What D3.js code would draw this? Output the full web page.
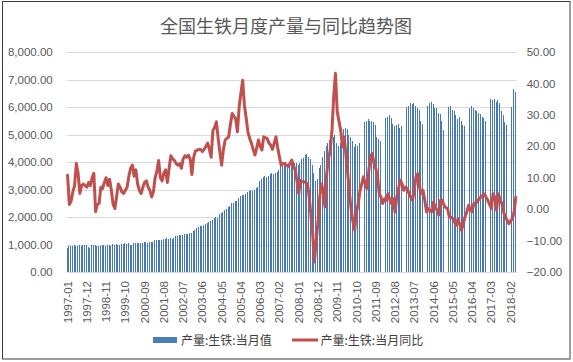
<!DOCTYPE html>
<html><head><meta charset="utf-8">
<script src="https://cdn.jsdelivr.net/npm/d3@7"></script>
<style>
html,body{margin:0;padding:0;background:#fff;}
svg{display:block;}
</style></head><body>
<script>
// ---------------- DATA ----------------
const chartTitle = "全国生铁月度产量与同比趋势图";
const seriesNames = ["产量:生铁:当月值", "产量:生铁:当月同比"];
const firstYear = 1997, monthCount = 257; // 1997-01 .. 2018-05
const months = [];
for (let i = 0; i < monthCount; i++) {
  const y = firstYear + Math.floor(i / 12), m = (i % 12) + 1;
  months.push(y + "-" + (m < 10 ? "0" + m : m));
}
const xTickLabels = ["1997-01","1997-12","1998-11","1999-10","2000-09","2001-08","2002-07","2003-06",
  "2004-05","2005-04","2006-03","2007-02","2008-01","2008-12","2009-11","2010-10","2011-09","2012-08",
  "2013-07","2014-06","2015-05","2016-04","2017-03","2018-02"];
const leftTicks = [0,1000,2000,3000,4000,5000,6000,7000,8000];
const rightTicks = [-20,-10,0,10,20,30,40,50];

// 产量:生铁:当月值 (万吨), null = not published
const production = [
  860, 930, 960, 950, 980, 960, 950, 970, 960, 980, 970, 990,          // 1997
  900, 880, 990, 980, 990, 960, 950, 960, 970, 980, 960, 990,          // 1998
  990, 950, 1010, 1000, 1020, 1000, 1000, 1010, 1020, 1040, 1020, 1050, // 1999
  1000, 1000, 1040, 1050, 1060, 1040, 1050, 1070, 1080, 1080, 1060, 1100, // 2000
  1080, 1090, 1150, 1160, 1170, 1180, 1170, 1200, 1210, 1220, 1200, 1240, // 2001
  1200, 1230, 1300, 1320, 1340, 1350, 1360, 1370, 1380, 1400, 1420, 1430, // 2002
  1500, 1520, 1600, 1640, 1660, 1680, 1720, 1760, 1780, 1820, 1860, 1900, // 2003
  1950, 2000, 1980, 2100, 2150, 2200, 2250, 2300, 2350, 2400, 2500, 2520, // 2004
  2600, 2580, 2700, 2750, 2800, 2800, 2850, 2900, 2950, 3000, 2950, 3000, // 2005
  3050, 3100, 3300, 3400, 3470, 3500, 3450, 3500, 3550, 3600, 3550, 3600, // 2006
  3650, 3700, 3850, 3900, 3950, 4000, 3900, 3950, 3950, 4000, 3950, 3950, // 2007
  3900, 3950, 4100, 4150, 4250, 4300, 4200, 4100, 3900, 3600, 3300, 3400, // 2008
  3800, 3900, 4200, 4400, 4600, 4700, 4800, 4750, 4900, 5000, 4700, 4600, // 2009
  4700, 4750, 5200, 5250, 5200, 5000, 4900, 4750, 4550, 4650, 4600, 4700, // 2010
  null, null, 5450, 5500, 5550, 5500, 5500, 5450, 5350, 4900, 4850, 4750, // 2011
  null, null, 5600, 5650, 5700, 5600, 5400, 5300, 5350, 5400, 5250, 5300, // 2012
  null, null, 6000, 6050, 6150, 6100, 6150, 6050, 5950, 5900, 5500, 5400, // 2013
  null, null, 6050, 6150, 6200, 6100, 5950, 5950, 5800, 5750, 5500, 5150, // 2014
  null, null, 6000, 6050, 5900, 5850, 5700, 5550, 5650, 5500, 5350, 5300, // 2015
  null, null, 5950, 6050, 5950, 5900, 5850, 5800, 5750, 5650, 5600, 5500, // 2016
  null, null, 6300, 6250, 6300, 6200, 6250, 6150, 5850, 5700, 5450, 5350, // 2017
  null, null, 6000, 6650, 6550                                            // 2018
];

// 产量:生铁:当月同比 (%)
const yoy = [
  10.8, 1.5, 2.5, 5.5, 7.5, 14.5, 11.5, 5, 7.5, 8, 7.5, 7,
  8.5, 7.5, 10, 11.4, -0.8, 1.5, 1.8, 7, 6.5, 8.5, 10, 7.5,
  9.5, 6, 1.5, 0.2, 4, 8, 7, 5.5, 5, 6, 7, 10.5,
  13, 14, 10.5, 12.5, 8, 6, 5, 7, 8.5, 9, 7, 6,
  3.9, 5.5, 10, 12, 15.5, 10, 9, 11.5, 12.5, 8.5, 13, 17,
  16, 15.5, 14.5, 14, 14.5, 13, 16, 17, 16.5, 17.2, 16, 11,
  16.5, 18.5, 18.8, 19, 19, 18.3, 19, 20, 21, 19, 16.5, 25,
  26, 27.8, 22.5, 18, 14, 19, 22, 22.5, 23, 27, 30.4, 29.5,
  28.8, 24.6, 32.6, 37, 41, 33, 29, 24.5, 22.5, 21, 19, 17.2,
  19.5, 22, 20, 18.8, 23, 22.7, 22.5, 21, 20.4, 19, 21, 23,
  19.5, 16.6, 14, 14.5, 14.5, 14, 13.5, 14.5, 15.6, 14, 12.4, 9,
  5, 9.2, 8.7, 8.7, 8.5, 8.1, 4, -2, -8, -16.8, -10, -4,
  3.8, 8, 6, 0.7, 11.3, 16, 18.8, 25, 36, 43.2, 31, 28,
  25, 19.8, 23, 17, 11.3, 5, -0.3, -4, -6.7, -1, 1.8, 5.9,
  8, 10.3, 8, 6.5, 12, 16.7, 17.7, 14.5, 13, 10.3, 5, 3.8,
  1.8, 3.3, 2.8, 4.9, 3, 1.8, 3.3, -0.9, 3.8, 6.5, 9.2, 8.1,
  6, 7, 6.5, 5, 3.8, 2.8, 6, 10.3, 11.3, 7, 4.9, 6,
  2.8, -0.9, 0.2, -0.5, -0.9, 2.3, 0.5, -0.3, -1.9, 2.8, 2.8, 1.2,
  0.5, 0.2, -2.5, -2.5, -3, -4.1, -5.1, -3, -5, -6.7, -4.6, -2.5,
  -0.9, 1.2, 0, -0.9, 1.8, 2, 2.3, 3.3, 3.8, 4.4, 4.9, 3.8,
  2.8, 1.5, 0.2, 4.9, 3.8, -0.3, 4.9, 3, 1.8, -0.9, -2.5, -3.5,
  -4.6, -3.8, -3, -0.9, 3.8
];

// ---------------- CHART ----------------
const W = 573, H = 362;
const plot = {left: 66.7, right: 516.7, top: 52, bottom: 272};
const textColor = "#595959";
const latin = "'Liberation Sans', Arial, sans-serif";
const cjk = "'Noto Sans CJK SC', 'Noto Sans', sans-serif";

const svg = d3.select("body").append("svg").attr("width", W).attr("height", H);
svg.append("rect").attr("width", W).attr("height", H).attr("fill", "#fff");
svg.append("rect").attr("x", 2.5).attr("y", 1.5).attr("width", 567.5).attr("height", 357.5)
  .attr("fill", "none").attr("stroke", "#3c3c3c").attr("stroke-width", 1);

const x = d3.scaleBand().domain(months).range([plot.left, plot.right]).paddingInner(0.3).paddingOuter(0.15);
const yL = d3.scaleLinear().domain([0, 8000]).range([plot.bottom, plot.top]);
const yR = d3.scaleLinear().domain([-20, 50]).range([plot.bottom, plot.top]);

// gridlines
svg.append("g").selectAll("line").data(leftTicks).join("line")
  .attr("x1", plot.left).attr("x2", plot.right)
  .attr("y1", d => Math.round(yL(d)) + 0.5).attr("y2", d => Math.round(yL(d)) + 0.5)
  .attr("stroke", "#d9d9d9").attr("stroke-width", 1);

// left axis
const axL = svg.append("g").attr("transform", `translate(${plot.left},0)`)
  .call(d3.axisLeft(yL).tickValues(leftTicks).tickFormat(d3.format(",.2f")).tickSize(0).tickPadding(14));
axL.select(".domain").remove();
axL.selectAll("text").attr("fill", textColor).style("font-family", latin).style("font-size", "11.5px");

// right axis
const axR = svg.append("g").attr("transform", `translate(${plot.right},0)`)
  .call(d3.axisRight(yR).tickValues(rightTicks).tickFormat(d3.format(".2f")).tickSize(0).tickPadding(10));
axR.select(".domain").remove();
axR.selectAll("text").attr("fill", textColor).style("font-family", latin).style("font-size", "11.5px");

// bars (thin 1px crisp bars like the reference)
const barData = months.map((m, i) => ({m, v: production[i]})).filter(d => d.v != null);
svg.append("g").attr("shape-rendering", "crispEdges").selectAll("rect").data(barData).join("rect")
  .attr("x", d => Math.floor(x(d.m) + x.bandwidth() / 2 - 0.5)).attr("width", 1)
  .attr("y", d => yL(d.v)).attr("height", d => yL(0) - yL(d.v))
  .attr("fill", "#4677b8");

// x axis
const axB = svg.append("g").attr("transform", `translate(0,${plot.bottom})`)
  .call(d3.axisBottom(x).tickValues(xTickLabels).tickSize(0));
axB.select(".domain").attr("stroke", "#d9d9d9");
axB.selectAll("text").attr("fill", textColor).style("font-family", latin).style("font-size", "11.5px")
  .attr("transform", "rotate(-90)").attr("text-anchor", "end")
  .attr("x", -9).attr("y", 0).attr("dy", "0.35em");

// line
const line = d3.line()
  .x((d, i) => x(months[i]) + x.bandwidth() / 2)
  .y(d => yR(d));
svg.append("path").datum(yoy).attr("d", line)
  .attr("fill", "none").attr("stroke", "#c0504d").attr("stroke-width", 3)
  .attr("stroke-linejoin", "round").attr("stroke-linecap", "round");

// title
svg.append("text").attr("x", 286).attr("y", 33).attr("text-anchor", "middle")
  .attr("fill", textColor).style("font-family", cjk).style("font-size", "18px")
  .text(chartTitle);

// legend
const lg = svg.append("g");
lg.append("rect").attr("x", 153).attr("y", 337).attr("width", 24).attr("height", 6).attr("fill", "#4a7ebb");
lg.append("text").attr("x", 181).attr("y", 344.5).attr("fill", "#404040")
  .style("font-family", cjk).style("font-size", "12px").text(seriesNames[0]);
lg.append("line").attr("x1", 292).attr("x2", 318).attr("y1", 340).attr("y2", 340)
  .attr("stroke", "#c0504d").attr("stroke-width", 3);
lg.append("text").attr("x", 320.5).attr("y", 344.5).attr("fill", "#404040")
  .style("font-family", cjk).style("font-size", "12px").text(seriesNames[1]);
</script>
</body></html>
